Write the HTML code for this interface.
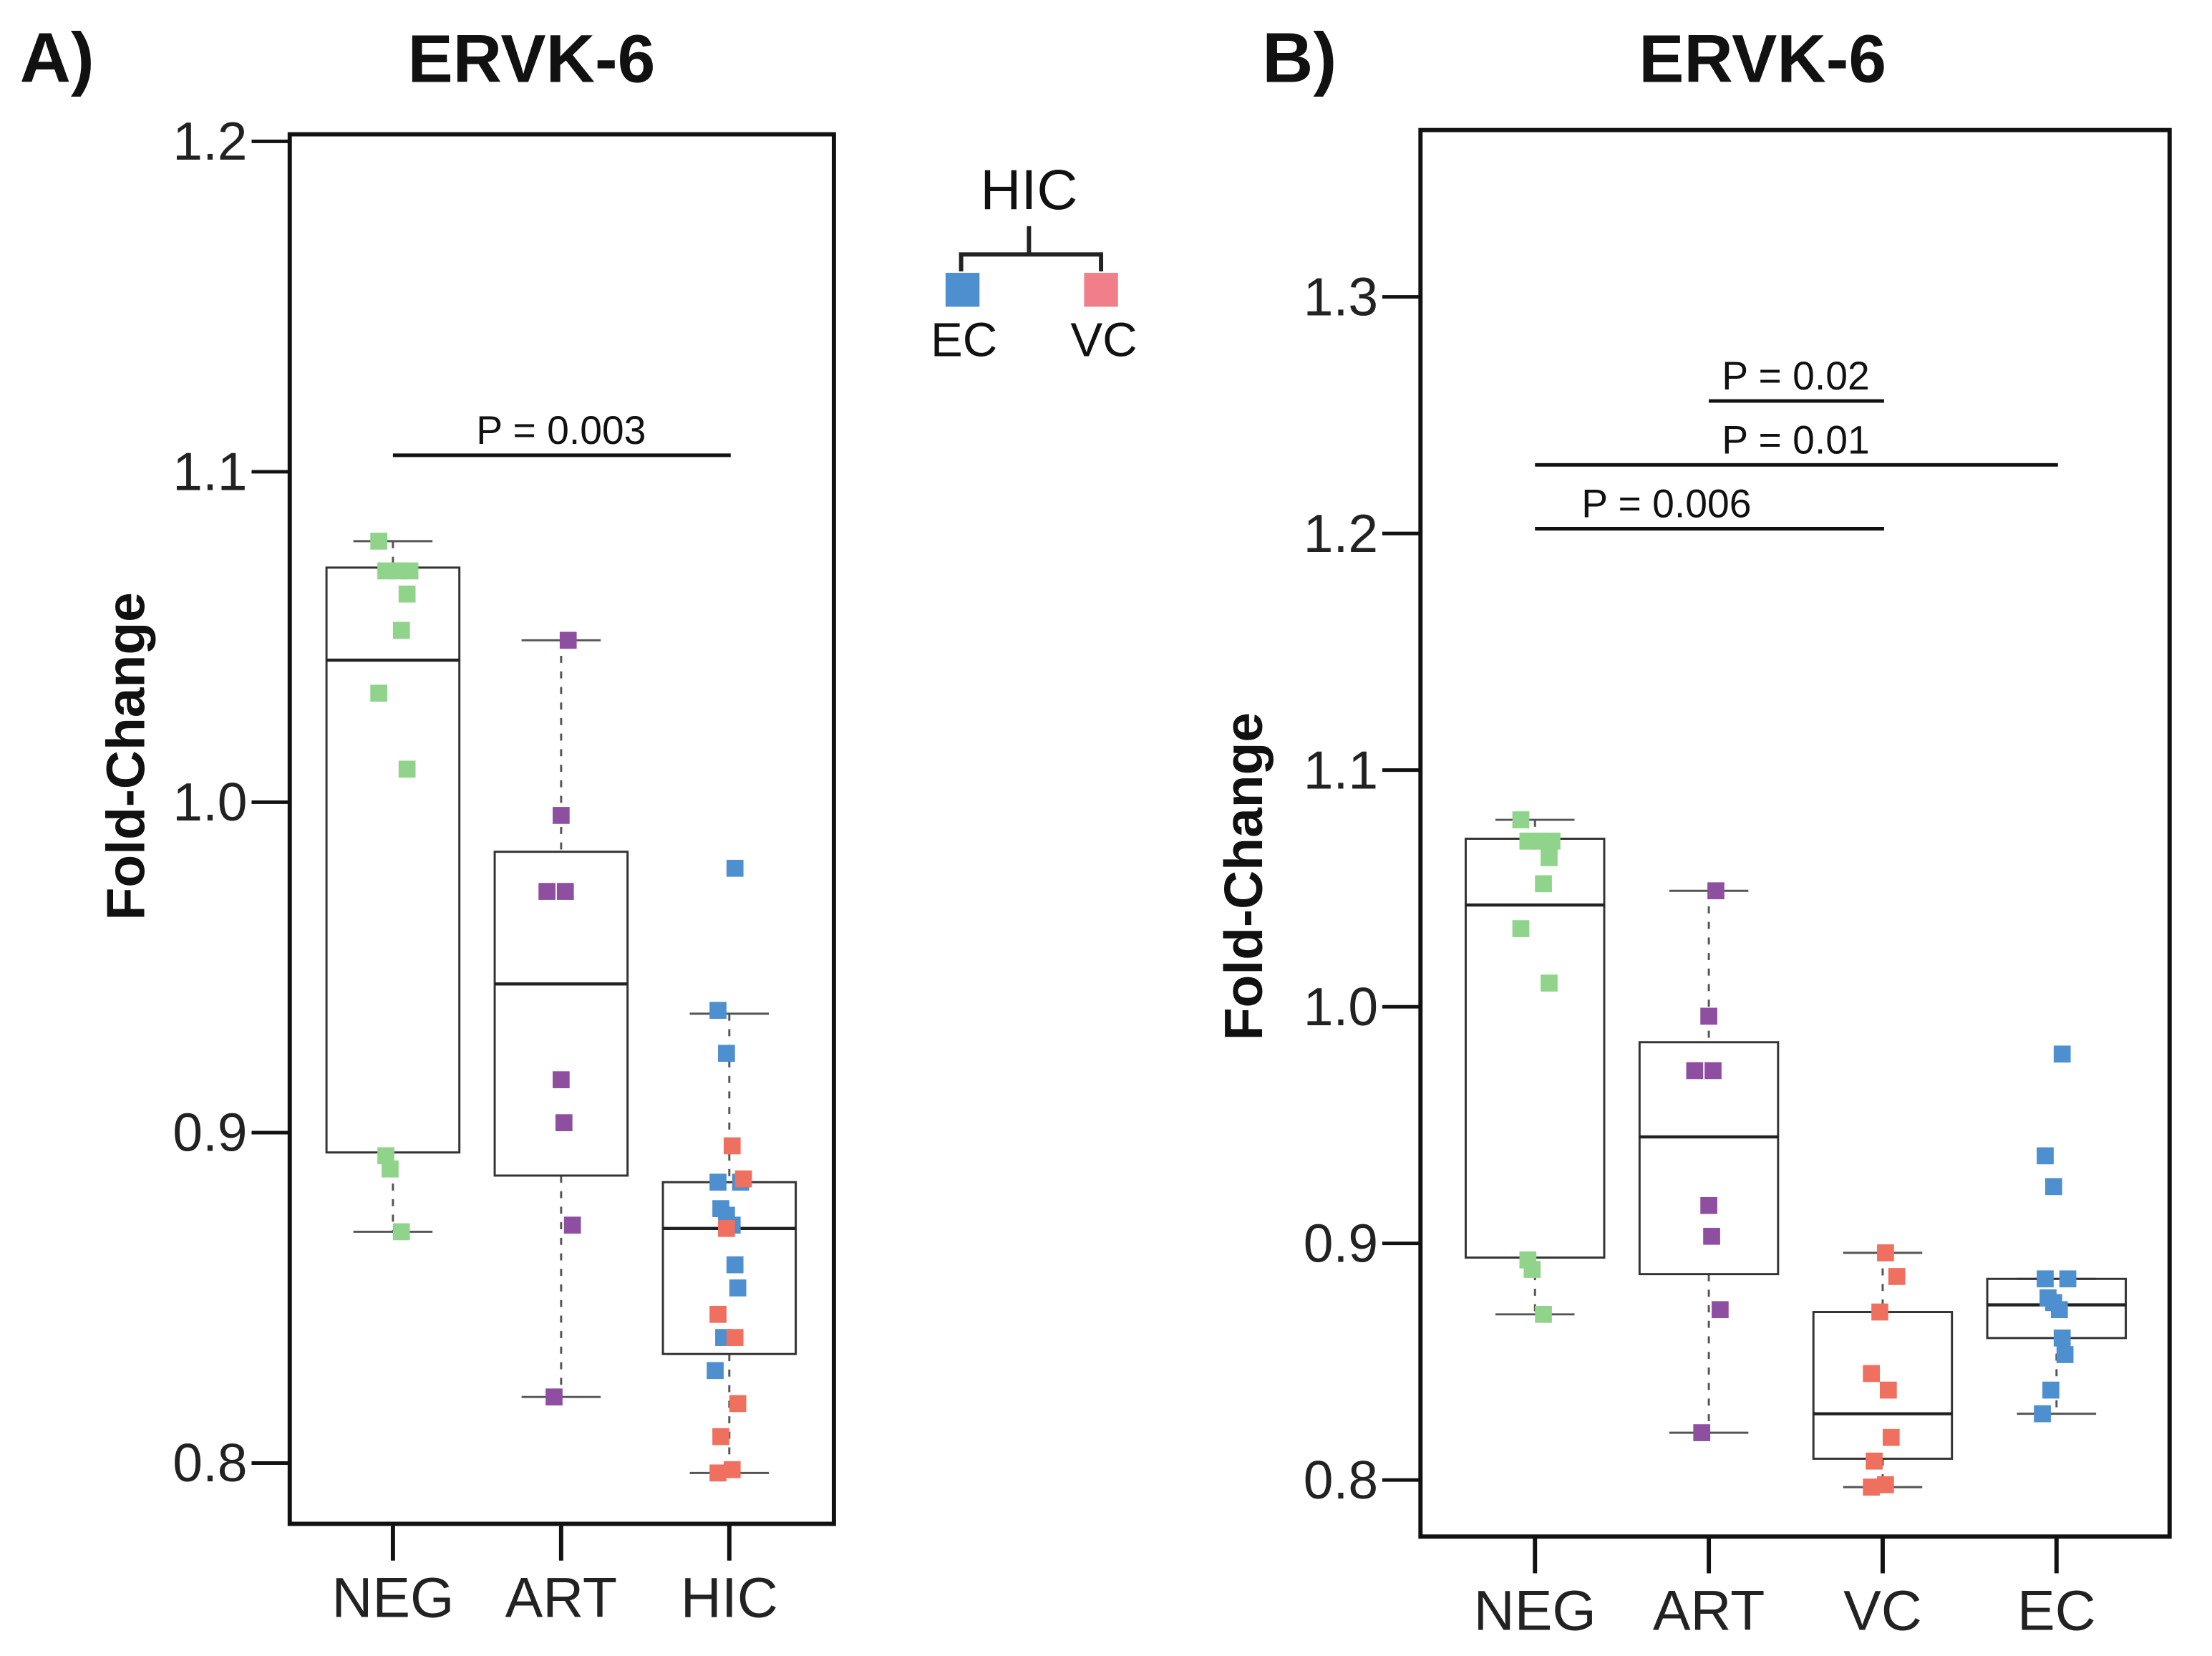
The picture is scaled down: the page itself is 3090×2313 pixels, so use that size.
<!DOCTYPE html>
<html><head><meta charset="utf-8"><style>
html,body{margin:0;padding:0;background:#fff}
svg{display:block}
text{font-family:"Liberation Sans",sans-serif}
</style></head><body>
<svg id="fig" width="3090" height="2313" viewBox="0 0 1565 1171.5" preserveAspectRatio="none" xmlns="http://www.w3.org/2000/svg">
<rect width="1565" height="1171.5" fill="#fff"/>
<g id="legend">
<text x="728" y="148" font-size="40" text-anchor="middle" fill="#111">HIC</text>
<path d="M728 160 V180 M680 192 V180 H779 V192" stroke="#222" stroke-width="3" fill="none"/>
<rect x="669" y="193" width="24" height="24" fill="#4d8fcf"/>
<rect x="767" y="193" width="24" height="24" fill="#f07f8a"/>
<text x="682" y="252" font-size="34" text-anchor="middle" fill="#111">EC</text>
<text x="781" y="252" font-size="34" text-anchor="middle" fill="#111">VC</text>
</g>
</svg>
<script>
const NS='http://www.w3.org/2000/svg';
const svg=document.getElementById('fig');
// ---- data ----
const catsA=['NEG','ART','HIC'];
const catsB=['NEG','ART','VC','EC'];
const negVals=[1.079,1.070,1.070,1.070,1.063,1.052,1.033,1.010,0.893,0.889,0.870];
const negJit=[-10,-5,4,12,10,6,-10,10,-5,-2,6];
const artVals=[1.049,0.996,0.973,0.973,0.916,0.903,0.872,0.820];
const artJit=[5,0,-10,3,0,2,8,-5];
const ecVals=[0.980,0.937,0.924,0.885,0.885,0.877,0.875,0.872,0.860,0.853,0.838,0.828];
const ecJit=[4,-8,-2,-8,8,-6,-2,2,4,6,-4,-10];
const vcVals=[0.896,0.886,0.871,0.845,0.838,0.818,0.808,0.798,0.797];
const vcJit=[2,10,-2,-8,4,6,-6,2,-8];
const boxNEG=[0.870,0.894,1.043,1.071,1.079];
const boxART=[0.820,0.887,0.945,0.985,1.049];
const boxHIC=[0.797,0.833,0.871,0.885,0.936];
const boxVC=[0.797,0.809,0.828,0.871,0.896];
const boxEC=[0.828,0.860,0.874,0.885,0.885];
const ticksA=['0.8','0.9','1.0','1.1','1.2'];
const ticksB=['0.8','0.9','1.0','1.1','1.2','1.3'];
const pA=[{from:0,to:2,y:1.105,label:'P = 0.003'}];
const pB=[{from:1,to:2,y:1.256,label:'P = 0.02'},{from:0,to:3,y:1.229,label:'P = 0.01'},{from:0,to:2,y:1.202,label:'P = 0.006'}];
const COL={NEG:'#8fd48a',ART:'#8e4fa0',EC:'#4d8fcf',VC:'#f07060'};

function el(tag,attrs,parent,txt){const e=document.createElementNS(NS,tag);for(const k in attrs)e.setAttribute(k,attrs[k]);if(txt!==undefined)e.textContent=txt;(parent||svg).appendChild(e);return e;}

function panel(cfg){
  const g=el('g',{});
  
  
  const y=v=>cfg.y0-(v-cfg.v0)*cfg.k;
  const x=i=>cfg.xs[i];
  const t1=el('text',{x:cfg.labX,y:58,'font-size':50,'font-weight':'bold',fill:'#111'},g,cfg.letter);
  
  
  const t2=el('text',{x:cfg.titleX,y:58,'font-size':48,'font-weight':'bold','text-anchor':'middle',fill:'#111'},g,'ERVK-6');
  
  
  const fr=el('rect',{x:cfg.L,y:cfg.T,width:cfg.R-cfg.L,height:cfg.B-cfg.T,fill:'none',stroke:'#111','stroke-width':3},g);
  
  
  cfg.ticks.forEach(t=>{
    const yy=y(parseFloat(t));
    const tl=el('line',{x1:cfg.L-27,x2:cfg.L,y1:yy,y2:yy,stroke:'#111','stroke-width':2.5},g);
    
    
    const tt=el('text',{x:cfg.L-30,y:yy+13,'font-size':38,'text-anchor':'end',fill:'#222'},g,t);
    
    
  });
  const yl=el('text',{x:0,y:0,'font-size':38,'font-weight':'bold','text-anchor':'middle',fill:'#111',transform:`translate(${cfg.ylX},${cfg.ylY}) rotate(-90)`},g,'Fold-Change');
  
  
  cfg.cats.forEach((c,i)=>{
    const xl=el('line',{x1:x(i),x2:x(i),y1:cfg.B,y2:cfg.B+26,stroke:'#111','stroke-width':3},g);
    
    
    const xt=el('text',{x:x(i),y:cfg.B+66,'font-size':40,'text-anchor':'middle',fill:'#222'},g,c);
    
    
  });
  cfg.boxes.forEach((b,i)=>{
    const cx=x(i),hw=cfg.hw;
    const w=el('path',{d:`M${cx} ${y(b[4])} V${y(b[3])} M${cx} ${y(b[1])} V${y(b[0])}`,stroke:'#555','stroke-width':1.5,'stroke-dasharray':'5 6',fill:'none'},g);
    
    
    const caps=el('path',{d:`M${cx-28} ${y(b[4])} H${cx+28} M${cx-28} ${y(b[0])} H${cx+28}`,stroke:'#555','stroke-width':1.5},g);
    
    
    const r=el('rect',{x:cx-hw,y:y(b[3]),width:2*hw,height:y(b[1])-y(b[3]),fill:'none',stroke:'#333','stroke-width':1.5},g);
    
    
    const m=el('line',{x1:cx-hw,x2:cx+hw,y1:y(b[2]),y2:y(b[2]),stroke:'#222','stroke-width':2.2},g);
    
    
  });
  cfg.points.forEach(p=>{
    p.vals.forEach((v,j)=>{
      const r=el('rect',{x:x(p.idx)+p.jit[j]-6,y:y(v)-6,width:12,height:12,fill:COL[p.col]},g);
      
      
    });
  });
  cfg.pvals.forEach(p=>{
    const yy=y(p.y);
    const l=el('line',{x1:x(p.from),x2:x(p.to)+1,y1:yy,y2:yy,stroke:'#111','stroke-width':2.5},g);
    
    
    const t=el('text',{x:(x(p.from)+x(p.to))/2+(p.from===0&&p.to===2&&cfg.cats.length===4?-30:0),y:yy-8,'font-size':28,'text-anchor':'middle',fill:'#111'},g,p.label);
    
    
  });
}
panel({name:'panel-a',letter:'A)',labX:14,titleX:376,L:205,R:590,T:95,B:1078,v0:0.8,y0:1035,k:2337.5,
  xs:[278,397,516],hw:47,cats:catsA,ticks:ticksA,ylX:102,ylY:535,boxes:[boxNEG,boxART,boxHIC],
  points:[{idx:0,vals:negVals,jit:negJit,col:'NEG'},{idx:1,vals:artVals,jit:artJit,col:'ART'},{idx:2,vals:ecVals,jit:ecJit,col:'EC'},{idx:2,vals:vcVals,jit:vcJit,col:'VC'}],
  pvals:pA});
panel({name:'panel-b',letter:'B)',labX:893,titleX:1247,L:1005,R:1535,T:92,B:1087,v0:0.8,y0:1047,k:1674,
  xs:[1086,1209,1332,1455],hw:49,cats:catsB,ticks:ticksB,ylX:893,ylY:620,boxes:[boxNEG,boxART,boxVC,boxEC],
  points:[{idx:0,vals:negVals,jit:negJit,col:'NEG'},{idx:1,vals:artVals,jit:artJit,col:'ART'},{idx:2,vals:vcVals,jit:vcJit,col:'VC'},{idx:3,vals:ecVals,jit:ecJit,col:'EC'}],
  pvals:pB});
</script>
</body></html>
